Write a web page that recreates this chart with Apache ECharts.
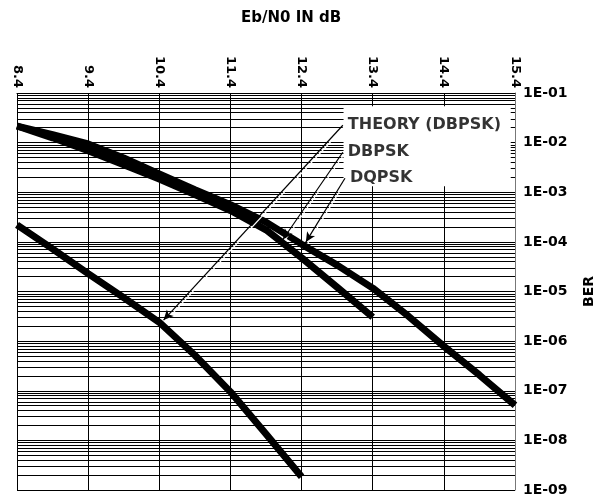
<!DOCTYPE html>
<html><head><meta charset="utf-8">
<script src="https://cdn.jsdelivr.net/npm/echarts@6/dist/echarts.min.js"></script>
<style>html,body{margin:0;padding:0;background:#fff}#c{width:604px;height:501px}</style>
</head><body><div id="c"></div>
<script>
// ---- data ----
const theoryEbN0 = [8.4, 8.9, 9.4, 9.9, 10.4, 10.9, 11.4, 11.9, 12.4];
const theoryBER  = [2.2e-4, 7.2e-5, 2.3e-5, 7.5e-6, 2.4e-6, 5.2e-7, 9.5e-8, 1.35e-8, 1.85e-9];

const dbpskEbN0 = [8.4, 8.9, 9.4, 9.9, 10.4, 10.9, 11.4, 11.9, 12.4, 12.9, 13.4];
const dbpskBER  = [2.16e-2, 1.25e-2, 6.9e-3, 3.6e-3, 1.85e-3, 9.0e-4, 4.3e-4, 1.75e-4, 4.8e-5, 1.22e-5, 3.04e-6];

const dqpskEbN0 = [8.4, 8.9, 9.4, 9.9, 10.4, 10.9, 11.4, 11.9, 12.4, 12.9, 13.4, 13.9, 14.4, 14.9, 15.4];
const dqpskBER  = [2.16e-2, 1.45e-2, 9.4e-3, 4.9e-3, 2.35e-3, 1.12e-3, 5.6e-4, 2.5e-4, 9.0e-5, 3.4e-5, 1.17e-5, 3.2e-6, 7.9e-7, 2.07e-7, 5.1e-8];

const xMin = 8.4, xMax = 15.4, xStep = 1;
const berMin = 1e-9, berMax = 1e-1;
const minorMultipliers = [2, 3, 4, 5, 6, 7, 8, 9];
const minorDecades = [-9, -8, -7, -6, -5, -4, -3, -2];

const labelNames = ['THEORY (DBPSK)', 'DBPSK', 'DQPSK'];
const leaderStartX = [12.98, 12.98, 13.01];
const leaderStartBER = [2.24e-2, 6.4e-3, 1.91e-3];
const leaderTipX = [10.46, 12.14, 12.46];
const leaderTipBER = [2.65e-6, 1.13e-4, 9.9e-5];

const boxX = [12.99, 15.34];
const boxBER = [5.4e-2, 1.32e-3];

const xTitle = 'Eb/N0 IN dB';
const yTitle = 'BER';

// ---- build ----
const FONT = 'DejaVu Sans';
const zip = (a, b) => a.map((v, i) => [v, b[i]]);
const minorValues = [];
minorDecades.forEach(d => minorMultipliers.forEach(m => minorValues.push(m * Math.pow(10, d))));

const chart = echarts.init(document.getElementById('c'), null, {renderer: 'canvas'});
const curveStyle = {color: '#000', width: 7, cap: 'butt'};

chart.setOption({
  animation: false,
  backgroundColor: '#fff',
  title: {
    text: xTitle, left: 236, top: 6,
    textStyle: {fontFamily: FONT, fontWeight: 'bold', fontSize: 15, color: '#000'}
  },
  grid: {left: 17, right: 80, top: 93, bottom: 11, containLabel: false},
  xAxis: {
    type: 'value', position: 'top', min: xMin, max: xMax, interval: xStep,
    axisLine: {show: true, lineStyle: {color: '#000', width: 1}},
    axisTick: {show: false},
    axisLabel: {
      rotate: 90, margin: 5, showMinLabel: true, showMaxLabel: true,
      fontFamily: FONT, fontWeight: 'bold', fontSize: 13, color: '#000',
      formatter: v => v.toFixed(1)
    },
    splitLine: {show: true, lineStyle: {color: '#000', width: 1}}
  },
  yAxis: {
    type: 'log', logBase: 10, position: 'right', min: berMin, max: berMax, splitNumber: 8,
    axisLine: {show: true, lineStyle: {color: '#777', width: 1}},
    axisTick: {show: false},
    axisLabel: {
      margin: 8, fontFamily: FONT, fontWeight: 'bold', fontSize: 14, color: '#000',
      formatter: v => '1E-' + String(Math.round(-Math.log10(v))).padStart(2, '0')
    },
    splitLine: {show: true, lineStyle: {color: '#000', width: 1}},
    name: yTitle, nameLocation: 'middle', nameRotate: 90, nameGap: 67,
    nameTextStyle: {fontFamily: FONT, fontWeight: 'bold', fontSize: 14, color: '#000'}
  },
  series: [
    {
      type: 'line', name: 'minorGrid', data: [], silent: true, z: 1,
      markLine: {
        silent: true, z: 1, precision: 15, symbol: ['none', 'none'], label: {show: false},
        lineStyle: {color: '#000', width: 1, type: 'solid'},
        emphasis: {disabled: true},
        data: minorValues.map(v => [{coord: [xMin, v]}, {coord: [xMax, v]}])
      },
      markArea: {
        silent: true, z: 2,
        itemStyle: {color: '#fff', opacity: 1, borderWidth: 0},
        data: [[{coord: [boxX[0], boxBER[0]]}, {coord: [boxX[1], boxBER[1]]}]]
      }
    },
    {type: 'line', name: 'THEORY (DBPSK)', data: zip(theoryEbN0, theoryBER), symbol: 'none', lineStyle: curveStyle, z: 3, silent: true},
    {type: 'line', name: 'DBPSK', data: zip(dbpskEbN0, dbpskBER), symbol: 'none', lineStyle: curveStyle, z: 3, silent: true},
    {type: 'line', name: 'DQPSK', data: zip(dqpskEbN0, dqpskBER), symbol: 'none', lineStyle: curveStyle, z: 3, silent: true},
    {
      type: 'line', name: 'leaders', data: [], silent: true, z: 5,
      markLine: {
        silent: true, z: 5, precision: 15, symbol: ['none', 'arrow'], symbolSize: [7, 10], label: {show: false},
        lineStyle: {color: '#000', width: 1.2, type: 'solid', shadowColor: '#fff', shadowBlur: 0, shadowOffsetX: 2, shadowOffsetY: 1},
        itemStyle: {color: '#000'},
        emphasis: {disabled: true},
        data: labelNames.map((n, i) => [
          {coord: [leaderStartX[i], leaderStartBER[i]]},
          {coord: [leaderTipX[i], leaderTipBER[i]]}
        ])
      }
    },
    {
      type: 'scatter', name: 'labels', silent: true, z: 6, symbolSize: 0,
      data: labelNames.map((n, i) => [leaderStartX[i], leaderStartBER[i], n]),
      label: {
        show: true, position: 'right', distance: 5,
        formatter: p => p.data[2], textBorderWidth: 0,
        fontFamily: FONT, fontWeight: 'bold', fontSize: 16, color: '#000'
      }
    }
  ]
});
</script>
</body></html>
